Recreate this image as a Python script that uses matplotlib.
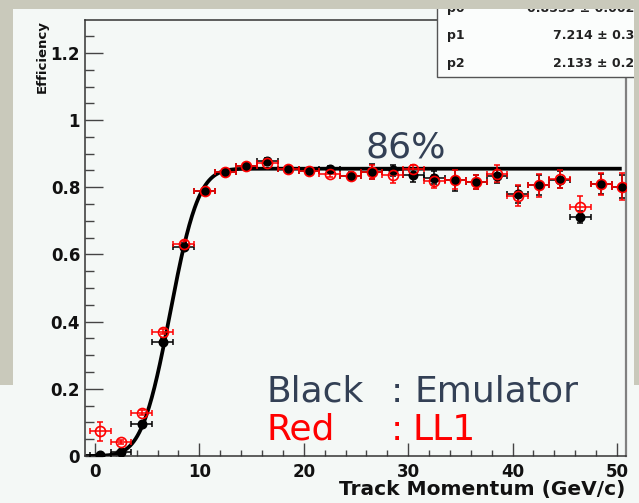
import math
import numpy as np
import matplotlib
matplotlib.use("Agg")
import matplotlib.pyplot as plt
from matplotlib.patches import Rectangle
from matplotlib.ticker import MultipleLocator, FixedLocator

# ---------------- data ----------------
momentum = [0.5, 2.5, 4.5, 6.5, 8.5, 10.5, 12.5, 14.5, 16.5, 18.5, 20.5, 22.5, 24.5,
            26.5, 28.5, 30.5, 32.5, 34.5, 36.5, 38.5, 40.5, 42.5, 44.5, 46.5, 48.5, 50.5]
bin_half_width = 1.0

emulator_eff = [0.002, 0.012, 0.094, 0.340, 0.623, 0.789, 0.846, 0.864, 0.878, 0.853,
                0.848, 0.854, 0.833, 0.846, 0.850, 0.836, 0.829, 0.823, 0.816, 0.834,
                0.779, 0.807, 0.823, 0.712, 0.809, 0.802]
emulator_err = [0.003, 0.004, 0.008, 0.010, 0.010, 0.008, 0.007, 0.007, 0.008, 0.008,
                0.009, 0.010, 0.012, 0.022, 0.015, 0.020, 0.020, 0.033, 0.022, 0.022,
                0.025, 0.030, 0.025, 0.018, 0.030, 0.035]

ll1_eff = [0.074, 0.042, 0.129, 0.370, 0.631, 0.789, 0.844, 0.863, 0.873, 0.853,
           0.847, 0.841, 0.833, 0.845, 0.836, 0.853, 0.818, 0.822, 0.816, 0.841,
           0.775, 0.806, 0.824, 0.741, 0.809, 0.802]
ll1_err = [0.028, 0.006, 0.008, 0.008, 0.008, 0.007, 0.008, 0.006, 0.007, 0.007,
           0.007, 0.010, 0.010, 0.020, 0.022, 0.012, 0.020, 0.028, 0.022, 0.025,
           0.032, 0.034, 0.027, 0.034, 0.033, 0.040]

# fit parameters (as shown in the stats box)
fit_p0 = 0.8553
fit_p1 = 7.214
fit_p2 = 2.133
fit_names = ["p0", "p1", "p2"]
fit_texts = ["0.8553 \u00b1 0.002", "7.214 \u00b1 0.3", "2.133 \u00b1 0.2"]

y_ticks = [0, 0.2, 0.4, 0.6, 0.8, 1.0, 1.2]
y_ticklabels = ["0", "0.2", "0.4", "0.6", "0.8", "1", "1.2"]
x_ticks = [0, 10, 20, 30, 40, 50]
x_ticklabels = ["0", "10", "20", "30", "40", "50"]

# ---------------- figure ----------------
W, H = 639, 503
canvas_col = "#f4f8f6"
gray_col = "#c9c9bb"

fig = plt.figure(figsize=(W / 100, H / 100), dpi=100)
fig.patch.set_facecolor(canvas_col)

def fx(px):
    return px / W

def fy(py):
    return 1 - py / H

ax = fig.add_axes([fx(85), fy(456), fx(625.7) - fx(85), fy(20) - fy(456)])
ax.set_facecolor(canvas_col)
ax.set_xlim(-0.95, 50.83)
ax.set_ylim(0, 1.298)

# fit curve
xf = np.linspace(-0.9, 50.45, 600)
erf_v = np.vectorize(math.erf)
yf = fit_p0 * 0.5 * (1 + erf_v((xf - fit_p1) / (math.sqrt(2) * fit_p2)))
ax.plot(xf, yf, color="black", lw=2.7, zorder=2, solid_capstyle="butt")

# error bars first, markers on top (ROOT-like look)
ax.errorbar(momentum, emulator_eff, xerr=bin_half_width, yerr=emulator_err,
            fmt="none", ecolor="black", elinewidth=1.1, capsize=2, capthick=1.1,
            zorder=3)
ax.errorbar(momentum, ll1_eff, xerr=bin_half_width, yerr=ll1_err,
            fmt="none", ecolor="red", elinewidth=1.1, capsize=2, capthick=1.1,
            zorder=4)
ax.plot(momentum, emulator_eff, "o", color="black", ms=6.2, zorder=5, ls="none")
ax.plot(momentum, ll1_eff, "o", mfc="none", mec="red", ms=7.2, mew=1.2, zorder=6,
        ls="none")

# ticks
ax.yaxis.set_major_locator(FixedLocator(y_ticks))
ax.set_yticklabels(y_ticklabels)
ax.yaxis.set_minor_locator(MultipleLocator(0.05))
ax.xaxis.set_major_locator(FixedLocator(x_ticks))
ax.set_xticklabels(x_ticklabels)
ax.xaxis.set_minor_locator(MultipleLocator(2))

ax.tick_params(axis="y", which="major", direction="in", length=12.7, width=1.0,
               color="#444444", pad=3.5, labelsize=12)
ax.tick_params(axis="y", which="minor", direction="in", length=6.5, width=1.0,
               color="#444444")
ax.tick_params(axis="x", which="major", direction="in", length=9.4, width=1.0,
               color="#444444", pad=5, labelsize=12)
ax.tick_params(axis="x", which="minor", direction="in", length=4.5, width=1.0,
               color="#444444")
for lab in ax.get_xticklabels() + ax.get_yticklabels():
    lab.set_fontweight("bold")
    lab.set_color("#111111")

for s in ["left", "bottom", "top"]:
    ax.spines[s].set_color("#333333")
    ax.spines[s].set_linewidth(1.1)
ax.spines["right"].set_color("#808080")
ax.spines["right"].set_linewidth(1.6)

# axis titles
fig.text(fx(625), fy(490), "Track Momentum (GeV/c)", ha="right", va="center",
         fontsize=14.5, fontweight="bold", color="#111111")
fig.text(fx(42), fy(20), "Efficiency", rotation=90, ha="center", va="top",
         fontsize=9.5, fontweight="bold", color="#111111")

# annotations
txt_col = "#334055"
fig.text(fx(365), fy(157), "86%", ha="left", va="baseline", fontsize=26, color=txt_col)
fig.text(fx(267), fy(401.7), "Black", ha="left", va="baseline", fontsize=26, color=txt_col)
fig.text(fx(391), fy(401.7), ":", ha="left", va="baseline", fontsize=26, color=txt_col)
fig.text(fx(414), fy(401.7), "Emulator", ha="left", va="baseline", fontsize=26, color=txt_col)
fig.text(fx(267), fy(440), "Red", ha="left", va="baseline", fontsize=26, color="red")
fig.text(fx(391), fy(440), ":", ha="left", va="baseline", fontsize=26, color="red")
fig.text(fx(413), fy(440), "LL1", ha="left", va="baseline", fontsize=26, color="red")

# stats box
box = Rectangle((fx(437), fy(77.3)), 0.5, 0.5, transform=fig.transFigure,
                facecolor="#fbfdfc", edgecolor="#555555", lw=1.0, zorder=10)
fig.add_artist(box)
row_y = [8.1, 35.7, 63.3]
val_x = [526.7, 553.3, 553.3]
for name, val, ry, vx in zip(fit_names, fit_texts, row_y, val_x):
    fig.text(fx(447.5), fy(ry), name, ha="left", va="center", fontsize=9,
             fontweight="bold", color="#222222", zorder=11)
    fig.text(fx(vx), fy(ry), val, ha="left", va="center", fontsize=9,
             fontweight="bold", color="#222222", zorder=11)

# slide background strips
for (x0, y0, w, h) in [(0, 0, 639, 9), (0, 0, 13, 385), (634, 0, 5, 385)]:
    r = Rectangle((fx(x0), fy(y0 + h)), w / W, h / H, transform=fig.transFigure,
                  facecolor=gray_col, edgecolor="none", zorder=20)
    fig.add_artist(r)

fig.savefig("out.png", dpi=100, facecolor=fig.get_facecolor())
